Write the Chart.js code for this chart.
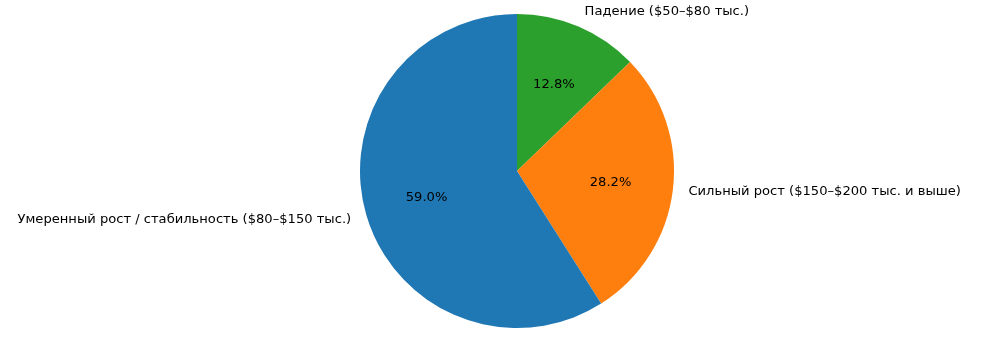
<!DOCTYPE html>
<html>
<head>
<meta charset="utf-8">
<script src="https://cdn.jsdelivr.net/npm/chart.js@4/dist/chart.umd.min.js"></script>
<style>
html,body{margin:0;padding:0;background:#fff;}
#wrap{width:983px;height:345px;position:relative;}
</style>
</head>
<body>
<div id="wrap"><canvas id="c" width="983" height="345"></canvas></div>
<script>
const categories = ["Падение ($50–$80 тыс.)", "Сильный рост ($150–$200 тыс. и выше)", "Умеренный рост / стабильность ($80–$150 тыс.)"];
const shares = [12.8, 28.2, 59.0];
const colors = ["#2ca02c", "#ff7f0e", "#1f77b4"];

const FONT = '13.1px "DejaVu Sans", sans-serif';

const pieLabels = {
  id: 'pieLabels',
  afterDatasetsDraw(chart) {
    const ctx = chart.ctx;
    const meta = chart.getDatasetMeta(0);
    const data = chart.data.datasets[0].data;
    const total = data.reduce((a, b) => a + b, 0);
    ctx.save();
    ctx.font = FONT;
    ctx.fillStyle = '#000';
    ctx.textBaseline = 'middle';
    meta.data.forEach((arc, i) => {
      const p = arc.getProps(['x', 'y', 'startAngle', 'endAngle', 'outerRadius'], true);
      const mid = (p.startAngle + p.endAngle) / 2;
      const cx = Math.cos(mid), cy = Math.sin(mid);
      ctx.textAlign = 'center';
      const pct = (data[i] / total * 100).toFixed(1) + '%';
      ctx.fillText(pct, p.x + cx * p.outerRadius * 0.6, p.y + cy * p.outerRadius * 0.6);
      const lx = p.x + cx * p.outerRadius * 1.1;
      const ly = p.y + cy * p.outerRadius * 1.1;
      ctx.textAlign = cx >= 0 ? 'left' : 'right';
      ctx.fillText(chart.data.labels[i], lx, ly);
    });
    ctx.restore();
  }
};

new Chart(document.getElementById('c'), {
  type: 'pie',
  data: {
    labels: categories,
    datasets: [{
      data: shares,
      backgroundColor: colors,
      borderWidth: 0,
      hoverOffset: 0
    }]
  },
  options: {
    responsive: false,
    animation: false,
    rotation: 0,
    layout: { padding: { left: 359, right: 308, top: 14, bottom: 17 } },
    plugins: {
      legend: { display: false },
      tooltip: { enabled: false }
    }
  },
  plugins: [pieLabels]
});
</script>
</body>
</html>
